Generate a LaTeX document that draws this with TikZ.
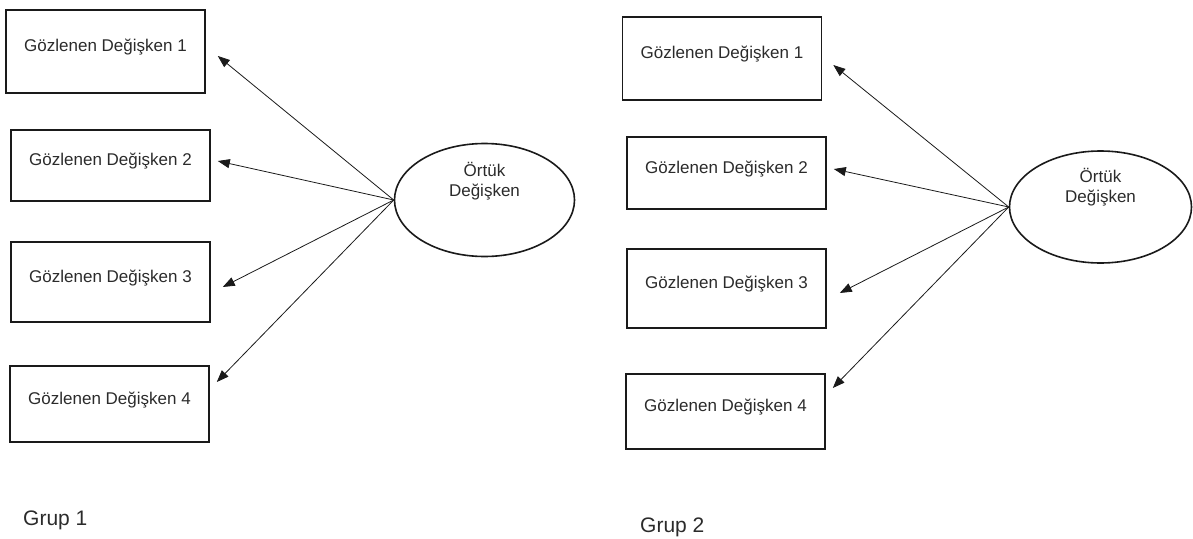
\documentclass[tikz,border=0pt]{standalone}
\usepackage{fontspec}
\setmainfont{Liberation Sans}
\usetikzlibrary{arrows.meta,shapes.geometric,calc}
\definecolor{ink}{HTML}{1A1A1A}
\definecolor{txt}{HTML}{2B2B2B}
\tikzset{
  obsbox/.style={draw=ink, line width=1.6pt, rectangle, minimum width=199pt,
    text=txt, font=\fontsize{17}{20}\selectfont, text height=12pt, text depth=12pt, inner sep=0pt},
  latent/.style={draw=ink, line width=1.6pt, ellipse, inner sep=0pt},
  latlabel/.style={text=txt, font=\fontsize{17}{20}\selectfont, align=center, inner sep=0pt},
  grouplabel/.style={text=txt, font=\fontsize{21}{24}\selectfont, inner sep=0pt, anchor=base west},
  load/.style={draw=ink, line width=0.8pt, -{Triangle[length=12pt,width=9pt]}}
}
\begin{document}
\begin{tikzpicture}[x=1pt,y=-1pt]
\useasboundingbox (0,0) rectangle (1193,538);

% ---- Grup 1 ----
\node[obsbox, minimum height=83pt] (a1) at (105.5,51.5) {Gözlenen Değişken 1};
\node[obsbox, minimum height=71pt] (a2) at (110.5,165.5) {Gözlenen Değişken 2};
\node[obsbox, minimum height=80pt] (a3) at (110.5,282) {Gözlenen Değişken 3};
\node[obsbox, minimum height=76pt] (a4) at (109.5,404) {Gözlenen Değişken 4};
\node[latent, minimum width=180pt, minimum height=113pt] (la) at (484.5,200) {};
\node[latlabel] (lat) at ([yshift=19pt]la.center) {Örtük\\Değişken};

\coordinate (ta1) at ($(a1.east)+(12,4.5)$);
\coordinate (ta2) at ($(a2.east)+(7,-4.5)$);
\coordinate (ta3) at ($(a3.east)+(12,5)$);
\coordinate (ta4) at ($(a4.east)+(7,-22)$);
\foreach \t in {ta1,ta2,ta3,ta4} \draw[load] (la.west) -- (\t);

\node[grouplabel] (g1) at (23,525) {Grup 1};

% ---- Grup 2 ----
\node[obsbox, minimum height=83pt] (b1) at (722,58.5) {Gözlenen Değişken 1};
\node[obsbox, minimum height=72pt] (b2) at (726.5,173) {Gözlenen Değişken 2};
\node[obsbox, minimum height=79pt] (b3) at (726.5,288.5) {Gözlenen Değişken 3};
\node[obsbox, minimum height=75pt] (b4) at (725.5,411.5) {Gözlenen Değişken 4};
\node[latent, minimum width=182pt, minimum height=112pt] (lb) at (1100.5,207) {};
\node[latlabel] (lbt) at ([yshift=19.5pt]lb.center) {Örtük\\Değişken};

\coordinate (tb1) at ($(b1.east)+(11,6.5)$);
\coordinate (tb2) at ($(b2.east)+(7,-4)$);
\coordinate (tb3) at ($(b3.east)+(13,4.5)$);
\coordinate (tb4) at ($(b4.east)+(7,-23.5)$);
\foreach \t in {tb1,tb2,tb3,tb4} \draw[load] (lb.west) -- (\t);

\node[grouplabel] (g2) at (640,532) {Grup 2};
\end{tikzpicture}
\end{document}
